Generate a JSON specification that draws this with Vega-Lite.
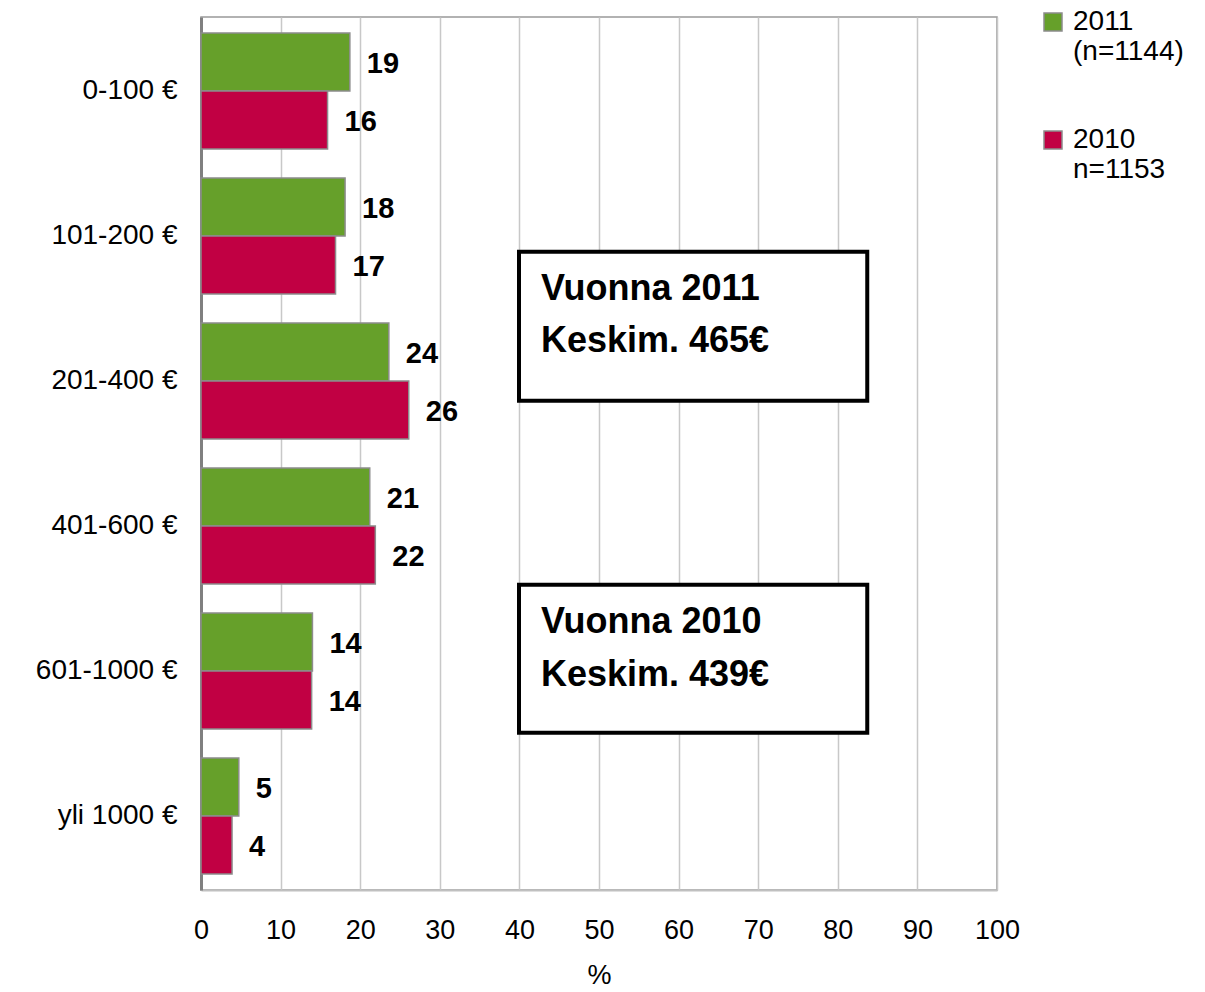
{
  "$schema": "https://vega.github.io/schema/vega-lite/v6.json",
  "width": 796,
  "height": 873,
  "autosize": {"type": "none"},
  "padding": {"left": 201, "top": 17, "right": 208, "bottom": 102},
  "background": "white",
  "config": {
    "font": "Liberation Sans",
    "view": {"stroke": "#999999", "strokeWidth": 1.5},
    "axis": {"labelFont": "Liberation Sans", "titleFont": "Liberation Sans", "labelColor": "black", "titleColor": "black"}
  },
  "data": {
    "values": [
      {"cat": "0-100 €", "year": "2011", "value": 18.7},
      {"cat": "0-100 €", "year": "2010", "value": 15.9},
      {"cat": "101-200 €", "year": "2011", "value": 18.1},
      {"cat": "101-200 €", "year": "2010", "value": 16.9},
      {"cat": "201-400 €", "year": "2011", "value": 23.6},
      {"cat": "201-400 €", "year": "2010", "value": 26.1},
      {"cat": "401-600 €", "year": "2011", "value": 21.2},
      {"cat": "401-600 €", "year": "2010", "value": 21.9},
      {"cat": "601-1000 €", "year": "2011", "value": 14.0},
      {"cat": "601-1000 €", "year": "2010", "value": 13.9},
      {"cat": "yli 1000 €", "year": "2011", "value": 4.75},
      {"cat": "yli 1000 €", "year": "2010", "value": 3.9}
    ]
  },
  "resolve": {"scale": {"y": "independent"}, "axis": {"y": "independent"}},
  "layer": [
    {
      "encoding": {
        "y": {
          "field": "cat", "type": "nominal",
          "sort": ["0-100 €", "101-200 €", "201-400 €", "401-600 €", "601-1000 €", "yli 1000 €"],
          "scale": {"paddingInner": 0.2, "paddingOuter": 0.11},
          "axis": {"title": null, "ticks": false, "labelPadding": 24, "labelFontSize": 28, "domainColor": "#808080", "domainWidth": 3}
        },
        "yOffset": {"field": "year", "type": "nominal", "sort": ["2011", "2010"]},
        "x": {
          "field": "value", "type": "quantitative",
          "scale": {"domain": [0, 100], "nice": false},
          "axis": {"title": "%", "values": [0,10,20,30,40,50,60,70,80,90,100], "ticks": false, "labelFlush": false, "labelPadding": 27, "labelFontSize": 27, "titleFontSize": 27, "titleFontWeight": "normal", "titlePadding": 19, "gridColor": "#c8c8c8", "gridWidth": 1.5, "domainColor": "#c0c0c0", "domainWidth": 2}
        }
      },
      "layer": [
        {
          "mark": {"type": "bar", "stroke": "#8c8c8c", "strokeWidth": 1.5},
          "encoding": {
            "color": {
              "field": "year", "type": "nominal",
              "scale": {"domain": ["2011", "2010"], "range": ["#66a02a", "#c10043"]},
              "legend": {
                "title": null, "orient": "none", "legendX": 838, "legendY": -9,
                "symbolType": "square", "symbolSize": 324, "symbolStrokeColor": "#8c8c8c", "symbolStrokeWidth": 1.5, "symbolOpacity": 1,
                "labelFontSize": 28, "labelColor": "black", "labelFont": "Liberation Sans", "labelOffset": 6,
                "labelExpr": "datum.label == '2011' ? ['2011', '(n=1144)'] : ['2010', 'n=1153']",
                "rowPadding": 60
              }
            }
          }
        },
        {
          "mark": {"type": "text", "align": "left", "baseline": "middle", "dx": 17, "dy": 2, "fontSize": 29, "fontWeight": "bold", "color": "black"},
          "encoding": {"text": {"field": "value", "type": "quantitative", "format": ".0f"}}
        }
      ]
    },
    {
      "data": {"values": [{}]},
      "encoding": {
        "y": {"type": "quantitative", "scale": {"domain": [0, 6], "reverse": true, "nice": false}, "axis": null}
      },
      "layer": [
        {"mark": {"type": "rect", "fill": "white", "stroke": "black", "strokeWidth": 4},
         "encoding": {"x": {"datum": 39.95, "type": "quantitative"}, "x2": {"datum": 83.7}, "y": {"datum": 1.613, "type": "quantitative"}, "y2": {"datum": 2.637}}},
        {"mark": {"type": "rect", "fill": "white", "stroke": "black", "strokeWidth": 4},
         "encoding": {"x": {"datum": 39.95, "type": "quantitative"}, "x2": {"datum": 83.7}, "y": {"datum": 3.902, "type": "quantitative"}, "y2": {"datum": 4.919}}},
        {"mark": {"type": "text", "text": "Vuonna 2011", "align": "left", "baseline": "alphabetic", "fontSize": 36, "fontWeight": "bold", "color": "black"},
         "encoding": {"x": {"datum": 42.7, "type": "quantitative"}, "y": {"datum": 1.943, "type": "quantitative"}}},
        {"mark": {"type": "text", "text": "Keskim. 465€", "align": "left", "baseline": "alphabetic", "fontSize": 36, "fontWeight": "bold", "color": "black"},
         "encoding": {"x": {"datum": 42.7, "type": "quantitative"}, "y": {"datum": 2.3, "type": "quantitative"}}},
        {"mark": {"type": "text", "text": "Vuonna 2010", "align": "left", "baseline": "alphabetic", "fontSize": 36, "fontWeight": "bold", "color": "black"},
         "encoding": {"x": {"datum": 42.7, "type": "quantitative"}, "y": {"datum": 4.234, "type": "quantitative"}}},
        {"mark": {"type": "text", "text": "Keskim. 439€", "align": "left", "baseline": "alphabetic", "fontSize": 36, "fontWeight": "bold", "color": "black"},
         "encoding": {"x": {"datum": 42.7, "type": "quantitative"}, "y": {"datum": 4.601, "type": "quantitative"}}}
      ]
    }
  ]
}
